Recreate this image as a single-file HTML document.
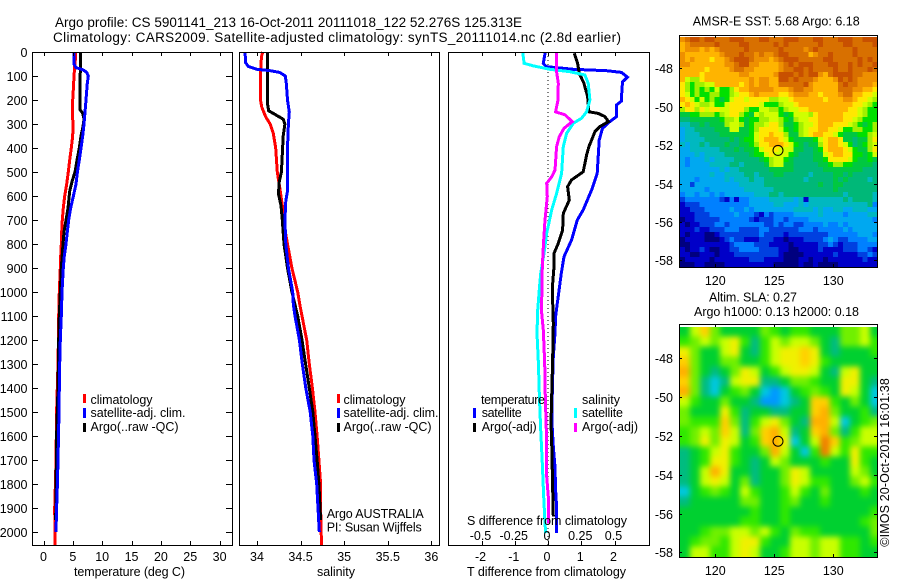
<!DOCTYPE html>
<html lang="en">
<head>
<meta charset="utf-8">
<title>Argo profile 5901141_213</title>
<style>
html,body{margin:0;padding:0;background:#fff;}
svg{display:block;}
text{font-family:"Liberation Sans",sans-serif;font-size:12.5px;fill:#000;}
</style>
</head>
<body>
<svg id="chart" xmlns="http://www.w3.org/2000/svg" width="900" height="580" viewBox="0 0 900 580">
  <defs>
    <clipPath id="clip-sla"><rect x="680" y="327" width="197" height="230"/></clipPath>
    <filter id="sla-blur" x="-5%" y="-5%" width="110%" height="110%" color-interpolation-filters="sRGB"><feGaussianBlur stdDeviation="3"/></filter>
  </defs>
  <g id="layer-marks"></g>
  <g id="layer-axes"></g>

  <text x="55" y="27" textLength="467" style="font-size:13.5px">Argo profile: CS 5901141_213 16-Oct-2011 20111018_122 52.276S 125.313E</text>
  <text x="53" y="42" textLength="568" style="font-size:13.5px">Climatology: CARS2009. Satellite-adjusted climatology: synTS_20111014.nc (2.8d earlier)</text>

  <text x="74" y="576" textLength="111">temperature (deg C)</text>
  <text x="317" y="576" textLength="38">salinity</text>
  <text x="467" y="576" textLength="159">T difference from climatology</text>
  <text x="467" y="525" textLength="160">S difference from climatology</text>

  <rect x="83" y="394" width="3" height="9" fill="#ff0000"/>
  <text x="90.5" y="404" textLength="62">climatology</text>
  <rect x="83" y="408" width="3" height="10" fill="#0000ff"/>
  <text x="90.5" y="417" textLength="95">satellite-adj. clim.</text>
  <rect x="83" y="423" width="3" height="9" fill="#000"/>
  <text x="90.5" y="431" textLength="88">Argo(..raw -QC)</text>

  <rect x="337" y="394" width="3" height="9" fill="#ff0000"/>
  <text x="343.5" y="404" textLength="62">climatology</text>
  <rect x="337" y="408" width="3" height="10" fill="#0000ff"/>
  <text x="343.5" y="417" textLength="95">satellite-adj. clim.</text>
  <rect x="337" y="423" width="3" height="9" fill="#000"/>
  <text x="343.5" y="431" textLength="88">Argo(..raw -QC)</text>

  <text x="326.7" y="518" textLength="97">Argo AUSTRALIA</text>
  <text x="326.7" y="531.7" textLength="95">PI: Susan Wijffels</text>

  <text x="481" y="404" textLength="64">temperature</text>
  <rect x="473" y="408" width="3" height="10" fill="#0000ff"/>
  <text x="481.7" y="417" textLength="40">satellite</text>
  <rect x="473" y="423" width="3" height="9" fill="#000"/>
  <text x="481.7" y="431" textLength="55">Argo(-adj)</text>
  <text x="582" y="404" textLength="38">salinity</text>
  <rect x="574" y="408" width="3" height="10" fill="#00ffff"/>
  <text x="582" y="417" textLength="41">satellite</text>
  <rect x="574" y="423" width="3" height="9" fill="#ff00ff"/>
  <text x="582" y="431" textLength="56">Argo(-adj)</text>

  <text x="692.7" y="25.7" textLength="167">AMSR-E SST: 5.68 Argo: 6.18</text>
  <text x="709" y="301.7" textLength="88">Altim. SLA: 0.27</text>
  <text x="694" y="316" textLength="165">Argo h1000: 0.13 h2000: 0.18</text>
  <text transform="translate(889,546.7) rotate(-90)" x="0" y="0" textLength="168.5">©IMOS 20-Oct-2011 16:01:38</text>
</svg>

<script>
/* ---------- profile data: depth (m) and values ---------- */
var tempClimDepth = [0,30,60,100,150,200,250,300,350,400,450,500,550,600,650,700,750,800,850,900,1000,1100,1200,1300,1500,1700,1800,1900,2055];
var tempClim = [5.43,5.43,5.32,5.2,5.09,4.97,4.91,5.03,4.97,4.74,4.46,4.23,3.95,3.61,3.38,3.21,3.1,3.04,2.93,2.87,2.7,2.59,2.53,2.47,2.24,2.13,2.02,1.9,1.96];
var tempSatDepth = [0,50,65,75,85,100,130,200,250,300,350,400,450,500,550,600,650,700,750,800,850,900,1000,1100,1200,1300,1400,1500,1700,1800,1900,2000];
var tempSat = [5.2,5.2,5.54,6.79,7.36,7.64,7.47,7.24,7.07,6.9,6.68,6.39,6.1,5.77,5.54,5.09,4.63,4.29,4.06,3.84,3.55,3.38,3.15,3.04,2.87,2.76,2.7,2.64,2.47,2.36,2.24,2.13];
var tempArgoDepth = [5,240,255,280,310,350,400,450,500,540,580,650,700,750,800,900,1000,1100,1200,1400,1600,1700,1800,1950];
var tempArgo = [6.28,6.22,6.68,6.9,6.73,6.39,6.1,5.71,5.37,4.86,4.46,4.18,3.84,3.5,3.32,3.04,2.87,2.7,2.59,2.47,2.24,2.19,2.13,2.07];

var salClimDepth = [0,20,100,200,230,270,300,340,400,500,540,600,640,700,800,900,1000,1050,1100,1200,1300,1400,1500,1600,1700,1800,1900,2055];
var salClim = [34.065,34.05,34.04,34.04,34.055,34.1,34.15,34.187,34.214,34.233,34.25,34.275,34.29,34.3,34.35,34.4,34.467,34.49,34.516,34.57,34.6,34.635,34.665,34.69,34.71,34.73,34.73,34.74];
var salSatDepth = [0,45,60,72,78,85,100,130,200,250,300,400,500,580,620,700,800,900,1000,1050,1100,1200,1300,1400,1500,1600,1700,1800,1900,2000];
var salSat = [33.862,33.87,33.9,34,34.15,34.26,34.325,34.336,34.35,34.37,34.36,34.35,34.35,34.35,34.33,34.32,34.33,34.36,34.41,34.417,34.436,34.486,34.52,34.56,34.61,34.64,34.654,34.685,34.7,34.715];
var salArgoDepth = [5,215,245,260,280,300,350,400,500,540,590,640,700,800,900,1000,1100,1200,1300,1400,1500,1600,1700,1800,1950];
var salArgo = [34.12,34.12,34.134,34.206,34.3,34.32,34.3,34.294,34.28,34.256,34.245,34.275,34.29,34.31,34.35,34.4,34.467,34.516,34.558,34.6,34.64,34.665,34.69,34.71,34.73];

var diffTSatDepth = [0,47,61,72,78,85,105,124,186,204,221,269,290,318,367,506,575,658,700,783,853,922,985,1047,1103,1172,1269,1408,1547,1644,1728,1825,1895,2005];
var diffTSat = [-0.08,-0.14,-0.06,0.76,1.76,2.21,2.39,2.24,2.21,2.21,2.06,2.06,1.86,1.64,1.54,1.48,1.31,1.06,0.88,0.71,0.48,0.4,0.34,0.28,0.23,0.21,0.16,0.13,0.12,0.16,0.21,0.23,0.26,0.26];
var diffTArgoDepth = [6,47,89,130,186,249,256,269,290,311,332,367,394,429,464,499,533,561,617,672,742,797,839,894,985,1131,1269,1547,1630,1825,1936];
var diffTArgo = [0.79,0.89,0.94,1.08,1.19,1.23,1.51,1.71,1.82,1.56,1.41,1.31,1.23,1.16,1.11,1.06,0.71,0.59,0.64,0.46,0.44,0.31,0.18,0.18,0.13,0.16,0.14,0.09,0.11,0.14,0.16];
var diffSSatDepth = [0,47,58,72,82,96,130,200,249,276,297,339,394,506,589,658,755,839,922,985,1075,1172,1297,1436,1575,1714,1853,1964,2005];
var diffSSat = [-0.19,-0.18,-0.11,0.015,0.165,0.2775,0.3025,0.315,0.29,0.2525,0.19,0.14,0.115,0.1025,0.065,0.0275,-0.01,-0.03,-0.055,-0.065,-0.0775,-0.0825,-0.0725,-0.065,-0.055,-0.0425,-0.0325,-0.0225,-0.0175];
var diffSArgoDepth = [0,75,130,200,249,262,290,318,353,394,492,520,547,603,700,783,894,985,1075,1158,1297,1436,1575,1770,1853,1964];
var diffSArgo = [0.0625,0.0625,0.0775,0.075,0.0575,0.1275,0.1825,0.12,0.085,0.065,0.0525,0.0275,-0.01,-0.005,-0.0225,-0.0325,-0.0425,-0.045,-0.05,-0.035,-0.025,-0.02,-0.0125,-0.01,0.0025,0.005];

/* ---------- tick labels ---------- */
var depthTicks = [0,100,200,300,400,500,600,700,800,900,1000,1100,1200,1300,1400,1500,1600,1700,1800,1900,2000];
var tempTicks = [0,5,10,15,20,25,30];
var salTicks = [34,34.5,35,35.5,36];
var diffTTicks = [-2,-1,0,1,2];
var diffSTicks = [-0.5,-0.25,0,0.25,0.5];
var lonTicks = [120,125,130];
var latTicks = [-48,-50,-52,-54,-56,-58];

/* ---------- float position ---------- */
var floatLon = 125.313;
var floatLat = -52.276;

/* ---------- SST map colour levels, north to south ---------- */
var sstRows = [
[13,14,15,15,14,15,15,14,14,14,15,15,15,14,14,14,15,15,14,14,14,15,15,15,14,14,14,15,15,14,14,14,15,15,15,14,14,15,15,15],
[12,13,14,14,14,14,14,15,14,14,14,14,15,15,14,14,14,14,14,15,14,15,14,14,14,14,14,14,15,14,14,14,14,15,15,14,14,14,14,15],
[12,13,13,13,12,13,12,13,14,14,14,14,14,15,14,14,14,14,14,14,15,14,14,14,14,13,14,15,14,14,14,14,14,14,14,15,14,14,14,14],
[13,12,12,12,12,12,12,12,13,14,14,14,15,14,14,13,14,13,13,14,15,15,14,14,14,14,12,13,14,14,15,14,14,14,14,15,14,14,14,14],
[13,12,13,12,12,12,11,12,12,13,14,15,15,15,14,13,13,13,12,13,14,15,15,15,14,14,14,14,14,15,15,14,14,14,14,14,15,14,15,14],
[13,13,12,12,12,12,12,12,12,13,13,14,15,15,13,13,12,12,12,12,13,14,15,14,15,15,15,14,14,14,15,15,14,14,15,14,15,14,14,15],
[12,12,12,12,12,11,12,12,12,12,13,14,14,13,13,12,12,12,12,12,13,14,14,15,15,14,15,14,14,14,14,15,14,14,15,14,14,14,15,14],
[12,12,12,12,11,12,12,12,12,12,12,12,13,13,12,12,12,12,12,13,15,15,15,14,15,14,15,15,13,12,14,15,15,15,15,14,14,13,13,13],
[12,10,9,9,11,12,12,12,12,12,12,12,12,12,13,12,13,13,12,12,15,15,14,15,14,14,14,13,12,12,12,13,15,14,15,14,13,13,13,13],
[11,9,8,9,9,10,10,12,12,12,12,12,11,12,13,12,13,13,12,12,14,14,14,14,14,15,13,12,12,12,12,12,14,15,14,14,13,13,13,12],
[11,9,8,9,8,9,8,10,8,8,9,11,12,12,13,13,13,13,13,12,12,12,13,14,14,13,13,12,12,12,12,12,14,14,14,13,13,12,12,11],
[11,10,8,9,8,8,9,9,8,8,9,10,11,11,12,13,12,12,12,12,11,11,12,13,13,13,12,12,11,12,12,12,13,14,14,12,12,11,11,10],
[12,11,10,8,10,8,9,8,7,8,10,11,11,10,11,11,11,11,9,9,10,10,11,12,12,12,12,12,12,11,12,12,12,13,13,12,11,11,10,9],
[11,12,11,10,9,9,10,8,8,10,11,11,11,11,11,11,10,8,8,8,9,10,10,11,12,12,12,12,12,12,12,12,12,12,12,11,11,10,9,8],
[9,11,11,9,11,10,11,11,10,10,11,11,11,9,8,8,10,10,9,9,8,9,10,10,11,11,12,12,12,12,12,12,12,12,11,11,10,9,8,8],
[7,7,8,8,9,9,9,8,9,10,11,11,9,8,7,10,9,10,10,10,8,7,8,10,10,10,9,11,12,12,12,12,12,11,11,11,10,9,8,8],
[6,6,7,7,7,7,7,7,8,9,9,10,8,7,8,8,9,9,10,10,9,8,7,9,10,10,11,11,12,12,12,12,12,11,11,10,9,8,8,8],
[5,5,6,6,7,6,7,7,7,9,10,10,9,7,8,9,9,10,11,11,9,7,7,8,9,10,10,11,12,12,12,11,11,11,10,9,8,7,8,9],
[4,5,5,6,6,6,6,7,7,7,10,10,7,7,8,9,11,11,11,11,10,8,7,8,9,10,11,11,12,12,11,11,10,8,8,9,9,8,8,9],
[4,5,5,5,6,6,6,6,7,7,7,7,7,7,8,10,11,11,12,11,11,9,7,7,9,10,11,12,12,11,11,10,8,7,7,7,8,8,9,10],
[4,5,5,5,5,6,6,6,6,6,7,6,7,8,8,10,11,12,12,12,11,10,8,7,7,7,7,8,10,11,12,12,11,7,7,6,7,7,9,11],
[5,4,5,5,6,5,6,6,6,7,6,6,7,7,8,9,11,11,12,12,12,11,10,8,7,6,7,7,9,11,12,12,11,10,8,6,7,8,9,10],
[4,4,5,5,5,5,5,5,6,6,6,7,6,7,7,8,10,11,11,11,10,10,10,7,7,6,6,7,8,11,12,12,12,11,10,8,7,7,9,11],
[4,4,4,5,4,5,5,5,5,6,6,6,6,6,7,8,8,10,11,10,10,10,8,7,6,6,6,7,7,10,11,12,12,11,11,8,8,7,8,10],
[4,3,4,4,4,5,4,5,5,5,5,6,6,6,6,6,7,8,9,10,10,8,7,6,6,6,6,7,7,8,11,11,11,11,10,8,7,7,8,7],
[4,3,4,4,4,4,5,5,5,5,6,6,5,6,6,6,6,7,9,10,10,7,7,6,6,6,6,6,7,7,8,9,9,8,8,7,7,7,7,6],
[4,4,4,4,4,4,4,4,5,4,5,5,6,6,6,6,6,6,7,7,7,7,7,6,6,6,6,6,6,7,7,7,7,7,7,7,7,6,6,6],
[4,4,4,4,4,4,5,4,4,5,5,5,5,6,6,5,6,6,6,7,7,6,6,6,6,6,5,6,6,6,6,7,7,6,7,6,6,6,6,6],
[4,4,4,3,4,4,4,4,4,5,4,5,5,5,6,5,5,6,6,6,6,6,6,6,6,5,6,6,6,6,6,7,6,7,6,6,6,6,5,6],
[4,4,2,4,4,4,4,4,4,4,4,4,5,5,5,5,5,6,6,6,6,6,6,6,6,6,6,6,7,6,6,7,7,6,6,6,6,6,6,6],
[4,4,4,4,4,3,4,4,4,4,4,4,4,5,5,5,5,5,5,6,6,6,6,6,6,6,6,6,6,6,6,7,6,6,6,6,6,6,6,6],
[3,4,4,3,4,4,3,4,3,4,4,4,4,4,4,5,5,5,6,6,5,6,6,6,6,6,6,6,6,6,6,6,6,5,6,6,6,6,6,5],
[2,3,3,3,3,3,3,3,2,1,3,1,3,3,4,4,4,4,5,5,5,5,5,4,5,1,5,5,5,5,5,5,5,6,5,6,6,6,6,5],
[1,2,2,2,3,3,3,3,3,3,3,3,3,3,4,4,4,4,4,5,5,4,4,4,5,4,5,5,5,5,5,5,5,5,5,5,5,5,6,3],
[1,1,2,2,2,3,3,3,3,3,4,3,3,4,3,4,4,4,4,4,4,4,4,5,5,5,5,4,5,4,4,5,5,4,4,5,5,5,4,4],
[1,1,1,2,2,2,3,3,3,3,3,4,3,3,3,2,1,3,2,3,3,3,3,4,4,4,4,4,5,4,4,4,4,3,4,4,4,4,5,5],
[0,1,1,2,2,2,2,2,3,3,3,3,3,3,2,1,2,2,2,3,3,2,3,3,3,3,4,4,4,4,4,4,4,4,4,4,4,4,4,3],
[1,0,1,1,2,2,2,3,3,2,3,3,3,3,3,3,3,2,2,3,2,3,3,2,2,3,3,3,3,4,3,3,4,3,4,4,4,4,4,4],
[1,1,1,2,1,1,2,2,2,3,3,3,2,2,2,2,3,3,2,2,2,2,2,2,3,3,3,2,3,3,3,3,3,4,3,4,4,4,4,4],
[1,0,1,1,1,0,0,1,2,2,2,2,2,2,2,2,3,2,2,2,2,1,2,2,2,2,2,2,2,2,3,3,3,3,3,3,4,4,4,3],
[0,1,1,1,1,0,0,0,1,2,3,2,2,1,1,1,2,2,2,1,1,0,1,1,1,2,2,2,2,3,4,3,2,2,3,3,3,3,4,4],
[0,0,1,1,1,1,1,1,1,1,2,3,3,3,3,2,2,2,1,1,1,1,0,1,1,1,1,1,2,2,3,2,1,2,2,2,3,3,3,3],
[1,0,1,1,2,1,0,0,1,1,2,2,3,3,3,3,2,2,2,2,1,1,0,0,1,1,1,1,2,1,1,1,1,2,2,2,3,3,2,1],
[1,1,0,0,1,1,1,0,1,1,1,2,2,2,2,2,2,2,2,2,1,0,0,0,0,1,1,1,1,1,1,2,1,1,1,1,2,2,3,2],
[0,1,1,1,1,1,0,1,1,1,1,1,1,1,2,2,2,1,1,1,1,0,0,0,1,1,0,1,1,0,1,1,1,1,1,1,1,2,1,1],
[0,0,0,1,1,0,0,0,0,1,1,1,1,1,1,1,1,1,1,0,0,0,0,0,1,0,0,1,0,0,0,0,1,1,1,1,1,1,1,1]
];
var sstPalette = ["#00007f","#0000c8","#0040e0","#0080ff","#00a8f0","#00b8c0","#00b878","#00c840","#00e000","#a0f000","#d0ff00","#ffe800","#ffb400","#ee9000","#d87000","#c85000"];

/* ---------- SLA map colour levels, north to south ---------- */
var slaRows = [
[3,6,8,5,3,3,3,3,5,4,3,4,4,3,3,3,5,5,6,3],
[4,5,6,5,6,7,4,2,4,6,5,6,6,5,3,2,5,5,6,4],
[7,5,3,3,6,7,3,2,4,6,7,7,8,7,3,2,3,3,3,4],
[8,5,3,3,5,5,3,3,4,6,7,7,8,7,4,3,3,3,3,3],
[9,5,3,2,3,5,7,6,3,4,6,7,7,6,3,2,6,7,3,3],
[8,5,2,1,2,6,7,7,2,2,3,5,5,4,3,3,7,7,3,2],
[9,5,2,1,3,4,5,3,1,0,1,3,4,5,4,3,7,6,3,1],
[6,4,3,3,5,3,3,2,0,0,1,2,3,8,8,4,3,5,3,1],
[5,3,3,3,7,4,2,3,3,2,2,3,3,8,9,5,3,3,4,2],
[5,4,4,4,8,5,2,4,6,7,5,3,2,9,9,6,1,3,4,5],
[4,5,6,5,8,6,2,5,8,9,6,2,3,8,9,5,2,4,6,6],
[4,5,7,5,7,6,3,4,8,9,7,1,3,6,10,8,4,5,6,6],
[2,3,4,6,7,4,3,3,5,9,6,3,1,4,10,6,4,7,4,4],
[2,3,4,7,7,4,3,2,3,6,5,3,3,3,4,3,3,7,4,3],
[2,3,6,9,7,3,3,2,3,3,5,7,6,3,3,3,3,6,5,3],
[2,3,6,7,6,3,5,2,3,3,5,7,6,4,4,3,3,5,6,4],
[1,3,4,5,4,3,6,4,3,3,4,6,4,3,5,3,3,3,4,3],
[2,3,3,3,3,3,5,5,3,3,4,5,3,3,4,3,3,3,3,3],
[3,3,3,3,3,3,3,4,3,3,4,3,3,3,3,3,3,3,3,4],
[3,3,3,3,3,3,4,4,3,3,4,3,3,3,3,3,3,3,4,5],
[3,3,4,5,5,6,6,5,6,4,3,5,4,4,3,3,3,3,3,5],
[3,4,5,5,4,6,7,7,4,3,3,6,6,5,6,6,4,4,3,4],
[3,6,6,4,4,6,7,6,3,3,4,6,6,5,6,6,4,4,3,3]
];
var slaPalette = ["#0098ff","#00c8e0","#00bc80","#00d030","#30e800","#70f000","#c8ff00","#f0f000","#ffd000","#ffb000","#f08000"];

/* ---------- axis functions ---------- */
function depthY(d){ return 52 + d * 0.24; }
function tempX(v){ return 43.5 + v * 5.87; }
function salX(v){ return 257 + (v - 34) * 87.17; }
function diffTX(v){ return 548 + v * 33.25; }
function diffSX(v){ return 548 + v * 133; }
function lonX(lon){ return 715.3 + (lon - 120) * 11.8; }
function sstLatY(lat){ return 68.3 + (-48 - lat) * 19.2; }
function slaLatY(lat){ return 358.3 + (-48 - lat) * 19.4; }

var NS = "http://www.w3.org/2000/svg";
var marks = document.getElementById("layer-marks");
var axes = document.getElementById("layer-axes");

function make(tag, parent){
  var el = document.createElementNS(NS, tag);
  parent.appendChild(el);
  return el;
}

function drawLine(name, depths, values, xFn, color){
  var pts = [];
  for (var i = 0; i < depths.length; i++){
    pts.push(xFn(values[i]).toFixed(1) + "," + depthY(depths[i]).toFixed(1));
  }
  var el = make("polyline", marks);
  el.setAttribute("points", pts.join(" "));
  el.setAttribute("fill", "none");
  el.setAttribute("stroke", color);
  el.setAttribute("stroke-width", "3");
  el.setAttribute("shape-rendering", "crispEdges");
  
  
}

function drawHeatmap(name, rows, palette, x0, dLon, lat0, dLat, latFn, parent, pad){
  var nRows = rows.length;
  for (var r = 0; r < nRows; r++){
    var nCols = rows[r].length;
    for (var c = 0; c < nCols; c++){
      var x1 = lonX(x0 + c * dLon), x2 = lonX(x0 + (c + 1) * dLon);
      var y1 = latFn(lat0 - r * dLat), y2 = latFn(lat0 - (r + 1) * dLat);
      if (pad){
        if (c === 0) x1 -= pad;
        if (c === nCols - 1) x2 += pad;
        if (r === 0) y1 -= pad;
        if (r === nRows - 1) y2 += pad;
      }
      var cell = make("rect", parent);
      cell.setAttribute("x", x1.toFixed(2));
      cell.setAttribute("y", y1.toFixed(2));
      cell.setAttribute("width", (x2 - x1 + 0.4).toFixed(2));
      cell.setAttribute("height", (y2 - y1 + 0.4).toFixed(2));
      cell.setAttribute("fill", palette[Math.max(0, Math.min(palette.length - 1, Math.round(rows[r][c])))]);
      cell.setAttribute("shape-rendering", "crispEdges");
      
      
    }
  }
}

function line(x1, y1, x2, y2, name, parent){
  var el = make("line", parent || axes);
  el.setAttribute("x1", x1);
  el.setAttribute("y1", y1);
  el.setAttribute("x2", x2);
  el.setAttribute("y2", y2);
  el.setAttribute("stroke", "#000");
  el.setAttribute("stroke-width", "1");
  el.setAttribute("shape-rendering", "crispEdges");
  
  
  return el;
}

function label(str, x, y, anchor, name){
  var el = make("text", axes);
  el.textContent = str;
  el.setAttribute("x", x);
  el.setAttribute("y", y);
  el.setAttribute("text-anchor", anchor);
  
  
}

function frame(l, t, r, b, name){
  var el = make("rect", axes);
  el.setAttribute("x", l + 0.5);
  el.setAttribute("y", t + 0.5);
  el.setAttribute("width", r - l);
  el.setAttribute("height", b - t);
  el.setAttribute("fill", "none");
  el.setAttribute("stroke", "#000");
  el.setAttribute("shape-rendering", "crispEdges");
  
  
}

function round1(v){ return Math.round(v) + 0.5; }

/* ---------- heat maps ---------- */
drawHeatmap("sst-cell", sstRows, sstPalette, 117.0, 1 / 2.39, -46.37, 5 / 19.2, sstLatY, marks, 0);

var slaClip = make("g", marks);
slaClip.setAttribute("clip-path", "url(#clip-sla)");


var slaBlur = make("g", slaClip);
slaBlur.setAttribute("filter", "url(#sla-blur)");


drawHeatmap("sla-cell", slaRows, slaPalette, 117.0, 10 / 11.8, -46.37, 10 / 19.4, slaLatY, slaBlur, 14);

/* ---------- profile lines ---------- */
drawLine("temperature-climatology-line", tempClimDepth, tempClim, tempX, "#ff0000");
drawLine("temperature-argo-line", tempArgoDepth, tempArgo, tempX, "#000000");
drawLine("temperature-satellite-line", tempSatDepth, tempSat, tempX, "#0000ff");
drawLine("salinity-climatology-line", salClimDepth, salClim, salX, "#ff0000");
drawLine("salinity-argo-line", salArgoDepth, salArgo, salX, "#000000");
drawLine("salinity-satellite-line", salSatDepth, salSat, salX, "#0000ff");

var zero = make("line", marks);
zero.setAttribute("x1", diffTX(0));
zero.setAttribute("x2", diffTX(0));
zero.setAttribute("y1", 52);
zero.setAttribute("y2", 545);
zero.setAttribute("stroke", "#000");
zero.setAttribute("stroke-dasharray", "1 3");
zero.setAttribute("shape-rendering", "crispEdges");



drawLine("t-difference-satellite-line", diffTSatDepth, diffTSat, diffTX, "#0000ff");
drawLine("t-difference-argo-line", diffTArgoDepth, diffTArgo, diffTX, "#000000");
drawLine("s-difference-satellite-line", diffSSatDepth, diffSSat, diffSX, "#00ffff");
drawLine("s-difference-argo-line", diffSArgoDepth, diffSArgo, diffSX, "#ff00ff");

/* ---------- panel frames and ticks ---------- */
frame(32, 52, 232, 545, "temperature-panel-frame");
frame(239, 52, 439, 545, "salinity-panel-frame");
frame(448, 52, 649, 545, "difference-panel-frame");
frame(679, 35, 877, 267, "sst-map-frame");
frame(679, 324, 877, 557, "sla-map-frame");

depthTicks.forEach(function(d){
  var y = round1(depthY(d));
  line(33, y, 38, y, "depth-tick-left");
  line(226, y, 232, y, "depth-tick-right");
  label(String(d), 27.5, y + 4.5, "end", "depth-tick-label");
});
tempTicks.forEach(function(v){
  var x = round1(tempX(v));
  line(x, 52, x, 56, "temperature-tick-top");
  line(x, 541, x, 545, "temperature-tick-bottom");
  label(String(v), tempX(v), 561, "middle", "temperature-tick-label");
});
salTicks.forEach(function(v){
  var x = round1(salX(v));
  line(x, 52, x, 56, "salinity-tick-top");
  line(x, 541, x, 545, "salinity-tick-bottom");
  label(String(v), salX(v), 561, "middle", "salinity-tick-label");
});
diffTTicks.forEach(function(v){
  var x = round1(diffTX(v));
  line(x, 52, x, 56, "t-difference-tick-top");
  line(x, 541, x, 545, "t-difference-tick-bottom");
  label(String(v), diffTX(v) - 1, 561, "middle", "t-difference-tick-label");
});
diffSTicks.forEach(function(v){
  label(String(v), diffSX(v) - 1, 540, "middle", "s-difference-tick-label");
});

function mapAxes(latFn, top, bottom, lonBase, prefix){
  lonTicks.forEach(function(lon){
    var x = round1(lonX(lon));
    line(x, top, x, top + 3, prefix + "-lon-tick-top");
    line(x, bottom - 3, x, bottom, prefix + "-lon-tick-bottom");
    label(String(lon), lonX(lon), lonBase, "middle", prefix + "-lon-tick-label");
  });
  latTicks.forEach(function(lat){
    var y = round1(latFn(lat));
    line(679, y, 682, y, prefix + "-lat-tick-left");
    line(874, y, 877, y, prefix + "-lat-tick-right");
    label(String(lat), 673, y + 4.5, "end", prefix + "-lat-tick-label");
  });
}
mapAxes(sstLatY, 35, 267, 285, "sst");
mapAxes(slaLatY, 324, 557, 575, "sla");

function floatMarker(latFn, name){
  var c = make("circle", axes);
  c.setAttribute("cx", lonX(floatLon));
  c.setAttribute("cy", latFn(floatLat));
  c.setAttribute("r", 5);
  c.setAttribute("fill", "none");
  c.setAttribute("stroke", "#000");
  c.setAttribute("stroke-width", "1");
  
  
}
floatMarker(sstLatY, "sst-float-position");
floatMarker(slaLatY, "sla-float-position");
</script>
</body>
</html>
